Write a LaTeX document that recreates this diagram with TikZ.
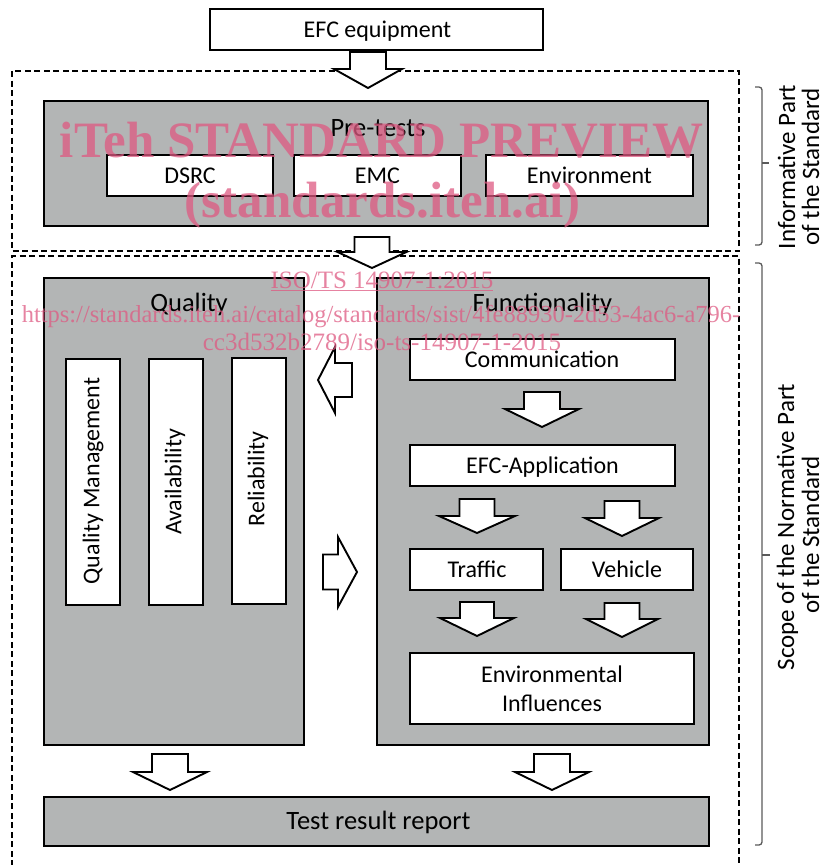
\documentclass[tikz,border=0pt]{standalone}
\usepackage{fontspec}
\setmainfont{Carlito}
\newfontfamily\wmfont{Liberation Serif}
\definecolor{boxgray}{RGB}{179,181,181}
\definecolor{wmpink}{RGB}{222,90,130}
\definecolor{bracegray}{RGB}{90,90,90}
\newcommand{\DArrow}[6]{% cx, ytop, ybase, ytip, shaft half, head half
  \draw[blockarrow] ({#1-#5},#2) -- ({#1+#5},#2) -- ({#1+#5},#3) -- ({#1+#6},#3) -- (#1,#4) -- ({#1-#6},#3) -- ({#1-#5},#3) -- cycle;}
\newcommand{\HArrow}[6]{% cy, xstart, xbase, xtip, shaft half, head half
  \draw[blockarrow] (#2,{#1-#5}) -- (#3,{#1-#5}) -- (#3,{#1-#6}) -- (#4,#1) -- (#3,{#1+#6}) -- (#3,{#1+#5}) -- (#2,{#1+#5}) -- cycle;}
\begin{document}
\begin{tikzpicture}[x=1pt,y=-1pt,
  graybox/.style={draw=black, line width=2.2pt, fill=boxgray, inner sep=0pt},
  whitebox/.style={draw=black, line width=1.4pt, fill=white, inner sep=0pt},
  blockarrow/.style={draw=black, line width=1.9pt, fill=white, line join=miter},
  dframe/.style={draw=black, line width=1.8pt, dash pattern=on 6pt off 3.5pt},
  lbl/.style={font=\fontsize{24}{28}\selectfont, anchor=base, inner sep=0pt},
  ttl/.style={font=\fontsize{26.5}{30}\selectfont, anchor=base, inner sep=0pt},
  rlbl/.style={font=\fontsize{24}{28}\selectfont, rotate=90, anchor=center, inner sep=0pt},
  sidelbl/.style={font=\fontsize{25}{28}\selectfont, rotate=90, anchor=base, inner sep=0pt},
  bracestyle/.style={draw=bracegray, line width=1.3pt, rounded corners=3pt},
  wm/.style={text=wmpink, text opacity=0.75, anchor=base, inner sep=0pt}]
\useasboundingbox (0,0) rectangle (824,865);

% dashed frames
\draw[dframe] (12,71) rectangle (739,251);
\draw[dframe] (12,866) -- (12,256) -- (739,256) -- (739,866);

% boxes
\node[whitebox, line width=1.2pt, minimum width=333pt, minimum height=41pt] (efc) at (376.5,29.5) {};
\node[graybox, minimum width=664pt, minimum height=125pt] (pre) at (376,163.5) {};
\node[whitebox, minimum width=166pt, minimum height=41pt] (dsrc) at (190,175.5) {};
\node[whitebox, minimum width=167pt, minimum height=41pt] (emc) at (377.5,175.5) {};
\node[whitebox, minimum width=207pt, minimum height=41pt] (env) at (589.5,175.5) {};

\node[graybox, minimum width=260pt, minimum height=467pt] (qual) at (174,511.5) {};
\node[whitebox, minimum width=54pt, minimum height=246pt] (qm) at (93,482) {};
\node[whitebox, minimum width=54pt, minimum height=246pt] (avail) at (176,482) {};
\node[whitebox, minimum width=54pt, minimum height=246pt] (rel) at (259,481) {};

\node[graybox, minimum width=332pt, minimum height=467pt] (func) at (543,511.5) {};
\node[whitebox, minimum width=265pt, minimum height=41pt] (comm) at (542.5,359.5) {};
\node[whitebox, minimum width=265pt, minimum height=41pt] (app) at (542.5,465.5) {};
\node[whitebox, minimum width=133pt, minimum height=41pt] (traf) at (476.5,569.5) {};
\node[whitebox, minimum width=132pt, minimum height=41pt] (veh) at (627,569.5) {};
\node[whitebox, minimum width=284pt, minimum height=71pt] (envinf) at (552,688.5) {};

\node[graybox, line width=2.5pt, minimum width=665pt, minimum height=49pt] (rep) at (376.5,821.5) {};

% block arrows
\DArrow{368}{52}{69}{88}{18}{34}
\DArrow{372}{237}{252}{268}{17.5}{34.5}
\DArrow{542}{392}{409}{427}{18}{37}
\DArrow{477}{499}{516}{533}{17.5}{38}
\DArrow{622}{501}{518}{536}{17.5}{37}
\DArrow{477}{602}{618}{636}{17}{37}
\DArrow{622}{603}{619}{637}{17.5}{36}
\DArrow{170}{754}{772}{790}{18}{37}
\DArrow{552}{754}{772}{790}{18}{37}
\HArrow{380}{352}{335}{318}{17}{33}
\HArrow{572}{323}{338}{357}{17.5}{35}

% labels
\node[lbl] (tefc) at (377.5,37) {EFC equipment};
\node[ttl] (tpre) at (378,136.5) {Pre-tests};
\node[lbl] (tdsrc) at (190,183) {DSRC};
\node[lbl] (temc) at (377.5,183) {EMC};
\node[lbl] (tenv) at (589.5,183) {Environment};
\node[ttl] (tqual) at (189,311) {Quality};
\node[ttl] (tfunc) at (542.5,311) {Functionality};
\node[rlbl] (tqm) at (93,481) {Quality Management};
\node[rlbl] (tavail) at (175,482) {Availability};
\node[rlbl] (trel) at (258,479) {Reliability};
\node[lbl] (tcomm) at (542,367) {Communication};
\node[lbl] (tapp) at (542.5,473) {EFC-Application};
\node[lbl] (ttraf) at (477,577) {Traffic};
\node[lbl] (tveh) at (627,577) {Vehicle};
\node[lbl] (tenv1) at (552,682) {Environmental};
\node[lbl] (tenv2) at (552,711) {Influences};
\node[ttl] (trep) at (378.5,829) {Test result report};

% braces and side labels
\draw[bracestyle] (755,87) -- (762,87) -- (762,245) -- (755,245);
\draw[draw=bracegray, line width=1.3pt] (762,163) -- (769,163);
\draw[bracestyle] (755,263) -- (762,263) -- (762,845) -- (755,845);
\draw[draw=bracegray, line width=1.3pt] (762,555) -- (770,555);
\node[sidelbl] (inf1) at (795,167) {Informative Part};
\node[sidelbl] (inf2) at (819,167) {of the Standard};
\node[sidelbl] (sc1) at (794,527) {Scope of the Normative Part};
\node[sidelbl] (sc2) at (819,535) {of the Standard};

% watermark
\node[wm, font=\wmfont\bfseries\fontsize{51}{51}\selectfont] (wm1) at (381.5,157) {iTeh STANDARD PREVIEW};
\node[wm, font=\wmfont\bfseries\fontsize{51}{51}\selectfont] (wm2) at (382.5,217) {(standards.iteh.ai)};
\node[wm, font=\wmfont\fontsize{25}{25}\selectfont] (wm3) at (382,288) {\underline{ISO/TS 14907-1:2015}};
\node[wm, font=\wmfont\fontsize{24.5}{25}\selectfont] (wm4) at (381,322) {https://standards.iteh.ai/catalog/standards/sist/4fe88930-2d53-4ac6-a796-};
\node[wm, font=\wmfont\fontsize{25}{25}\selectfont] (wm5) at (382,350) {cc3d532b2789/iso-ts-14907-1-2015};
\end{tikzpicture}
\end{document}
